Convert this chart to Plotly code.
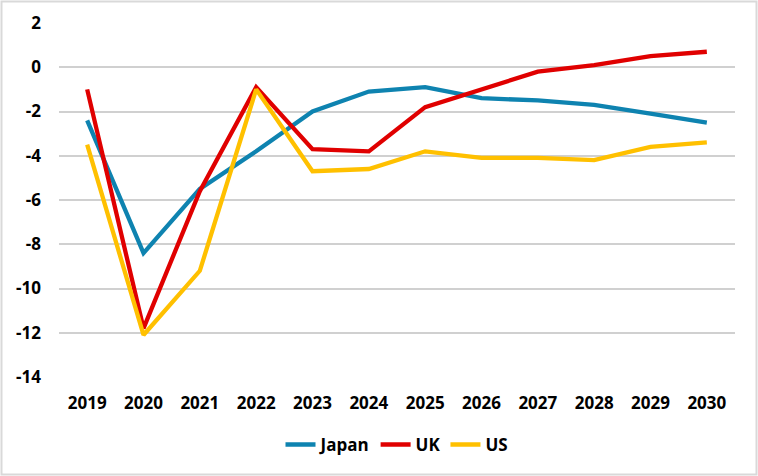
import plotly.graph_objects as go

years = ["2019", "2020", "2021", "2022", "2023", "2024", "2025", "2026", "2027", "2028", "2029", "2030"]
japan = [-2.4, -8.4, -5.5, -3.8, -2.0, -1.1, -0.9, -1.4, -1.5, -1.7, -2.1, -2.5]
uk = [-1.0, -11.8, -5.6, -0.9, -3.7, -3.8, -1.8, -1.0, -0.2, 0.1, 0.5, 0.7]
us = [-3.5, -12.1, -9.2, -1.0, -4.7, -4.6, -3.8, -4.1, -4.1, -4.2, -3.6, -3.4]
y_ticks = [2, 0, -2, -4, -6, -8, -10, -12, -14]

W, H = 758, 476
ML, MR, MT, MB = 59, 23, 23, 99
FONT = dict(family="Open Sans, Liberation Sans, sans-serif", size=17, color="#000000", weight="bold")

fig = go.Figure()
for name, vals, col in [("Japan", japan, "#0E83B0"), ("UK", uk, "#E00000"), ("US", us, "#FFC000")]:
    fig.add_trace(go.Scatter(x=years, y=vals, name=name, mode="lines",
                             line=dict(color=col, width=4.3)))

pw, ph = W - ML - MR, H - MT - MB
fig.add_shape(type="rect", xref="paper", yref="paper",
              x0=(1.5 - ML) / pw, x1=(W - 1.5 - ML) / pw,
              y0=-(H - 1.5 - MT - ph) / ph, y1=1 + (MT - 1.5) / ph,
              line=dict(color="#D9D9D9", width=2), fillcolor="rgba(0,0,0,0)", layer="below")

fig.update_layout(
    width=W, height=H,
    margin=dict(l=ML, r=MR, t=MT, b=MB),
    paper_bgcolor="white", plot_bgcolor="white",
    font=FONT,
    showlegend=True,
    legend=dict(orientation="h", x=0.5, xanchor="center", y=-0.192, yanchor="middle",
                font=FONT, itemwidth=30, traceorder="normal"),
    xaxis=dict(type="category", range=[-0.5, 11.5], showgrid=False, zeroline=False,
               showline=False, ticks="", tickfont=FONT, ticklabelstandoff=14),
    yaxis=dict(range=[-14, 2], tickvals=y_ticks, ticktext=[str(v) for v in y_ticks],
               showgrid=True, gridcolor="#D0D0D0", gridwidth=1.5, zeroline=False,
               showline=False, ticks="", tickfont=FONT, ticklabelstandoff=17),
)
fig.write_html("out.html", config={"displayModeBar": False},
               post_script="document.body.style.margin='0';document.body.style.overflow='hidden';")
